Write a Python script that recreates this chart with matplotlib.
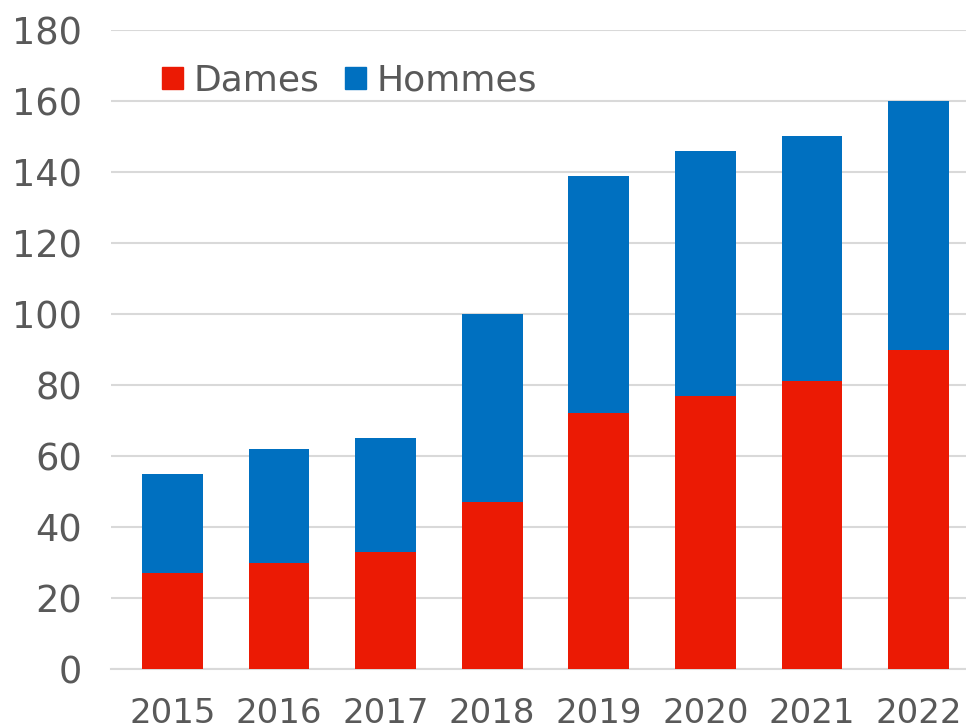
import matplotlib
matplotlib.use("Agg")
import matplotlib.pyplot as plt
from matplotlib.patches import Patch

years = ["2015", "2016", "2017", "2018", "2019", "2020", "2021", "2022"]
dames = [27, 30, 33, 47, 72, 77, 81, 90]
hommes = [28, 32, 32, 53, 67, 69, 69, 70]
yticks = [0, 20, 40, 60, 80, 100, 120, 140, 160, 180]

RED = "#EB1A04"
BLUE = "#0070C0"
GRAY = "#595959"
GRID = "#D9D9D9"

plt.rcParams["font.family"] = ["DejaVu Sans"]

fig = plt.figure(figsize=(9.66, 7.28), dpi=100)
W, H = 966, 728
ax = fig.add_axes([111 / W, (H - 669) / H, (966 - 111) / W, 639 / H])

x = list(range(len(years)))
ax.bar(x, dames, width=0.57, color=RED, zorder=3, label="Dames")
ax.bar(x, hommes, width=0.57, bottom=dames, color=BLUE, zorder=3, label="Hommes")

ax.set_ylim(0, 180)
ax.set_xlim(-0.577, 7.446)
ax.set_yticks(yticks)
ax.set_yticklabels([str(v) for v in yticks], fontsize=26.5, color=GRAY)
ax.set_xticks(x)
ax.set_xticklabels(years, fontsize=24.5, color=GRAY)
ax.tick_params(axis="y", length=0, pad=21)
ax.tick_params(axis="x", length=0, pad=20)

ax.grid(axis="y", color=GRID, linewidth=1.5, zorder=0)
for s in ["left", "right", "top"]:
    ax.spines[s].set_visible(False)
ax.spines["bottom"].set_color(GRID)
ax.spines["bottom"].set_linewidth(1.5)

handles = [Patch(color=RED, label="Dames"), Patch(color=BLUE, label="Hommes")]
leg = ax.legend(handles=handles, loc="center left", bbox_to_anchor=(162 / W, (H - 80.5) / H),
                bbox_transform=fig.transFigure, ncol=2, frameon=False, fontsize=26,
                handlelength=0.58, handleheight=0.58, handletextpad=0.3, columnspacing=0.7,
                borderpad=0, borderaxespad=0)
for t in leg.get_texts():
    t.set_color(GRAY)

fig.savefig("out.png", dpi=100)
